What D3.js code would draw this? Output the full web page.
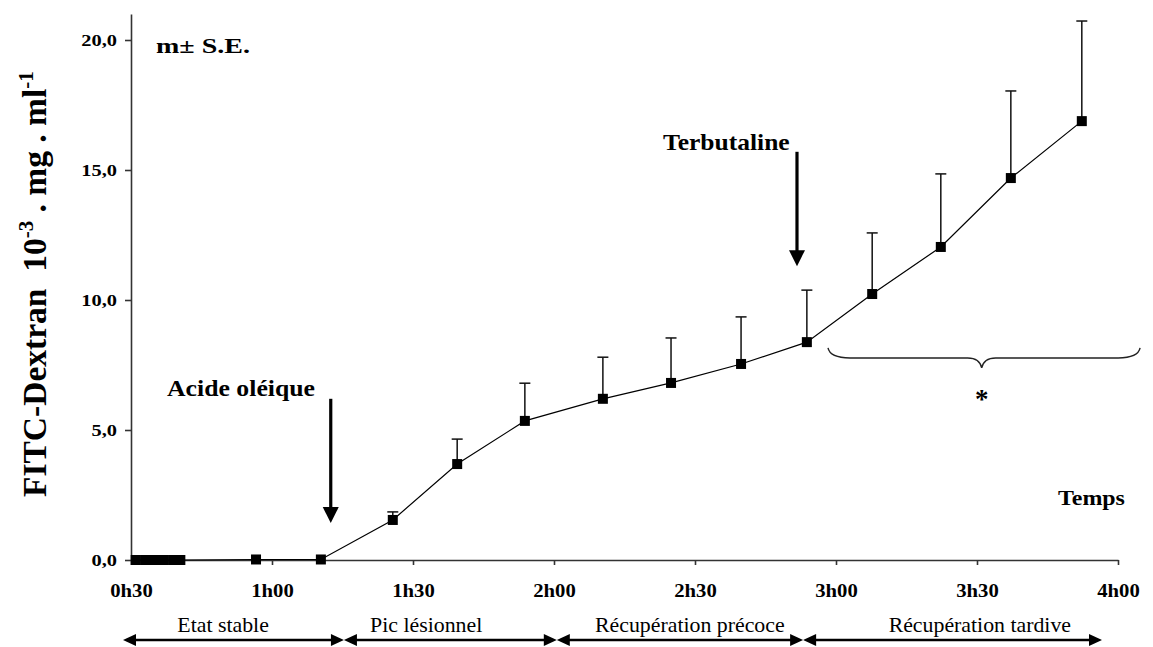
<!DOCTYPE html>
<html>
<head>
<meta charset="utf-8">
<script src="https://cdn.jsdelivr.net/npm/d3@7"></script>
<style>
  html, body { margin: 0; padding: 0; background: #fff; }
  svg { display: block; }
  svg text { font-family: 'Liberation Serif', 'Times New Roman', Times, serif !important; }
</style>
</head>
<body>
<svg id="chart" width="1153" height="647"></svg>
<script>
// ---------- data (time in minutes, FITC-Dextran in 10^-3 mg/ml) ----------
const times = [31, 33, 35, 37, 39, 40.5, 56.6, 70.4, 85.7, 99.4, 113.8, 130.4, 144.9, 159.8, 173.8, 187.7, 202.3, 217.2, 232.3];
const means = [0, 0, 0, 0, 0, 0, 0.02, 0.02, 1.54, 3.69, 5.35, 6.2, 6.81, 7.54, 8.38, 10.23, 12.04, 14.69, 16.88];
const errors = [0, 0, 0, 0, 0, 0, 0, 0, 0.31, 0.96, 1.45, 1.6, 1.73, 1.81, 2.0, 2.35, 2.81, 3.35, 3.85];

const xTickValues = [30, 60, 90, 120, 150, 180, 210, 240];
const xTickLabels = ["0h30", "1h00", "1h30", "2h00", "2h30", "3h00", "3h30", "4h00"];
const yTickValues = [0, 5, 10, 15, 20];
const yTickLabels = ["0,0", "5,0", "10,0", "15,0", "20,0"];

const phaseNames = ["Etat stable", "Pic lésionnel", "Récupération précoce", "Récupération tardive"];
const phaseBounds = [28.3, 75.3, 120.6, 173, 236.6];
const phaseLabelAt = [49.6, 92.8, 148.9, 210.6];

const injections = [
  { label: "Acide oléique", time: 72.5, from: 6.2, to: 1.42 },
  { label: "Terbutaline", time: 171.7, from: 15.7, to: 11.3 }
];
const brace = { start: 178.3, mid: 211, end: 244.7, level: 7.77 };

// ---------- layout ----------
const FONT = "'Liberation Serif', 'Times New Roman', Times, serif";
const svg = d3.select("#chart");
const x = d3.scaleLinear().domain([30, 240]).range([131, 1118]);
const y = d3.scaleLinear().domain([0, 21]).range([560, 14]);
const AX = "#333";

function label(txt, px, py, opts) {
  const o = Object.assign({ size: 18, weight: "bold", anchor: "start", sx: 1 }, opts || {});
  return svg.append("text")
    .attr("transform", `translate(${px},${py}) scale(${o.sx},1)`)
    .attr("text-anchor", o.anchor)
    .style("font-family", FONT)
    .attr("font-size", o.size)
    .attr("font-weight", o.weight)
    .attr("fill", "#000")
    .text(txt);
}

// ---------- axes ----------
const xAxis = d3.axisBottom(x)
  .tickValues(xTickValues)
  .tickFormat((d, i) => xTickLabels[i])
  .tickSizeInner(5).tickSizeOuter(0).tickPadding(19);
const gx = svg.append("g").attr("transform", `translate(0,${y(0)})`).call(xAxis)
  .attr("font-family", null);
gx.select(".domain").attr("stroke", AX).attr("stroke-width", 1.6);
gx.selectAll(".tick line").attr("stroke", AX).attr("stroke-width", 1.6);
gx.selectAll(".tick text")
  .style("font-family", FONT)
  .attr("font-size", 18.5).attr("font-weight", "bold").attr("fill", "#000")
  .attr("transform", "scale(1.12,1)");

const yAxis = d3.axisLeft(y)
  .tickValues(yTickValues)
  .tickFormat((d, i) => yTickLabels[i])
  .tickSizeInner(6).tickSizeOuter(0).tickPadding(8);
const gy = svg.append("g").attr("transform", `translate(${x(30)},0)`).call(yAxis)
  .attr("font-family", null);
gy.select(".domain").attr("stroke", AX).attr("stroke-width", 1.6);
gy.selectAll(".tick line").attr("stroke", AX).attr("stroke-width", 1.6);
gy.selectAll(".tick text")
  .style("font-family", FONT)
  .attr("font-size", 17).attr("font-weight", "bold").attr("fill", "#000")
  .attr("x", 0).attr("dy", "0.3em")
  .attr("transform", "translate(-14,0) scale(1.2,1)");

// ---------- y-axis title ----------
const yt = svg.append("text")
  .attr("transform", "translate(46,497) rotate(-90)")
  .attr("text-anchor", "start")
  .style("font-family", FONT)
  .attr("font-size", 33.5).attr("font-weight", "bold").attr("fill", "#000");
yt.append("tspan").text("FITC-Dextran\u00A0\u00A010");
yt.append("tspan").attr("font-size", 21).attr("dy", -13).text("-3");
yt.append("tspan").attr("dy", 13).text("\u00A0.\u00A0mg\u00A0.\u00A0ml");
yt.append("tspan").attr("font-size", 21).attr("dy", -13).text("-1");

// ---------- series ----------
const pts = times.map((t, i) => ({ t, m: means[i], e: errors[i] }));

const eb = svg.append("g").attr("stroke", "#111").attr("stroke-width", 1.5);
pts.filter(d => d.e > 0).forEach(d => {
  eb.append("line").attr("x1", x(d.t)).attr("x2", x(d.t)).attr("y1", y(d.m)).attr("y2", y(d.m + d.e));
  eb.append("line").attr("x1", x(d.t) - 5.5).attr("x2", x(d.t) + 5.5).attr("y1", y(d.m + d.e)).attr("y2", y(d.m + d.e));
});

svg.append("path")
  .datum(pts)
  .attr("fill", "none").attr("stroke", "#000").attr("stroke-width", 1.2)
  .attr("d", d3.line().x(d => x(d.t)).y(d => y(d.m)));

svg.append("g").selectAll("rect").data(pts).join("rect")
  .attr("x", d => x(d.t) - 5).attr("y", d => y(d.m) - 5)
  .attr("width", 10).attr("height", 10).attr("fill", "#000");

// ---------- injection arrows ----------
injections.forEach(a => {
  const ax = x(a.time), y0 = y(a.from), y1 = y(a.to);
  svg.append("line").attr("x1", ax).attr("x2", ax).attr("y1", y0).attr("y2", y1 - 14)
    .attr("stroke", "#000").attr("stroke-width", 3.2);
  svg.append("path").attr("fill", "#000")
    .attr("d", `M${ax - 8},${y1 - 16} L${ax + 8},${y1 - 16} L${ax},${y1} Z`);
});
label(injections[0].label, 167, 396, { size: 23, sx: 1.12 });
label(injections[1].label, 663, 150, { size: 23, sx: 1.11 });

// ---------- annotations ----------
label("m\u00B1 S.E.", 156, 53, { size: 20, sx: 1.4 });
label("Temps", 1058, 505, { size: 21, sx: 1.14 });

// brace + asterisk
{
  const x0 = x(brace.start), x1 = x(brace.end), xm = x(brace.mid), by = y(brace.level);
  const d = `M${x0},${by - 10} Q${x0 + 2},${by} ${x0 + 22},${by} L${xm - 14},${by} Q${xm - 2},${by} ${xm},${by + 10} ` +
            `Q${xm + 2},${by} ${xm + 14},${by} L${x1 - 22},${by} Q${x1 - 2},${by} ${x1},${by - 10}`;
  svg.append("path").attr("d", d).attr("fill", "none").attr("stroke", "#222").attr("stroke-width", 1.4);
  label("*", xm, by + 50, { size: 27, weight: "bold", anchor: "middle" });
}

// ---------- phase bar ----------
const phaseY = 640;
const pg = svg.append("g");
for (let i = 0; i < phaseNames.length; i++) {
  const a = x(phaseBounds[i]), b = x(phaseBounds[i + 1]);
  pg.append("line").attr("x1", a + 10).attr("x2", b - 10).attr("y1", phaseY).attr("y2", phaseY)
    .attr("stroke", "#000").attr("stroke-width", 2.6);
  pg.append("path").attr("fill", "#000")
    .attr("d", `M${a},${phaseY} L${a + 13},${phaseY - 6} L${a + 13},${phaseY + 6} Z`);
  pg.append("path").attr("fill", "#000")
    .attr("d", `M${b},${phaseY} L${b - 13},${phaseY - 6} L${b - 13},${phaseY + 6} Z`);
  label(phaseNames[i], x(phaseLabelAt[i]), 632, { size: 21, weight: "normal", anchor: "middle", sx: 1.04 });
}
</script>
</body>
</html>
